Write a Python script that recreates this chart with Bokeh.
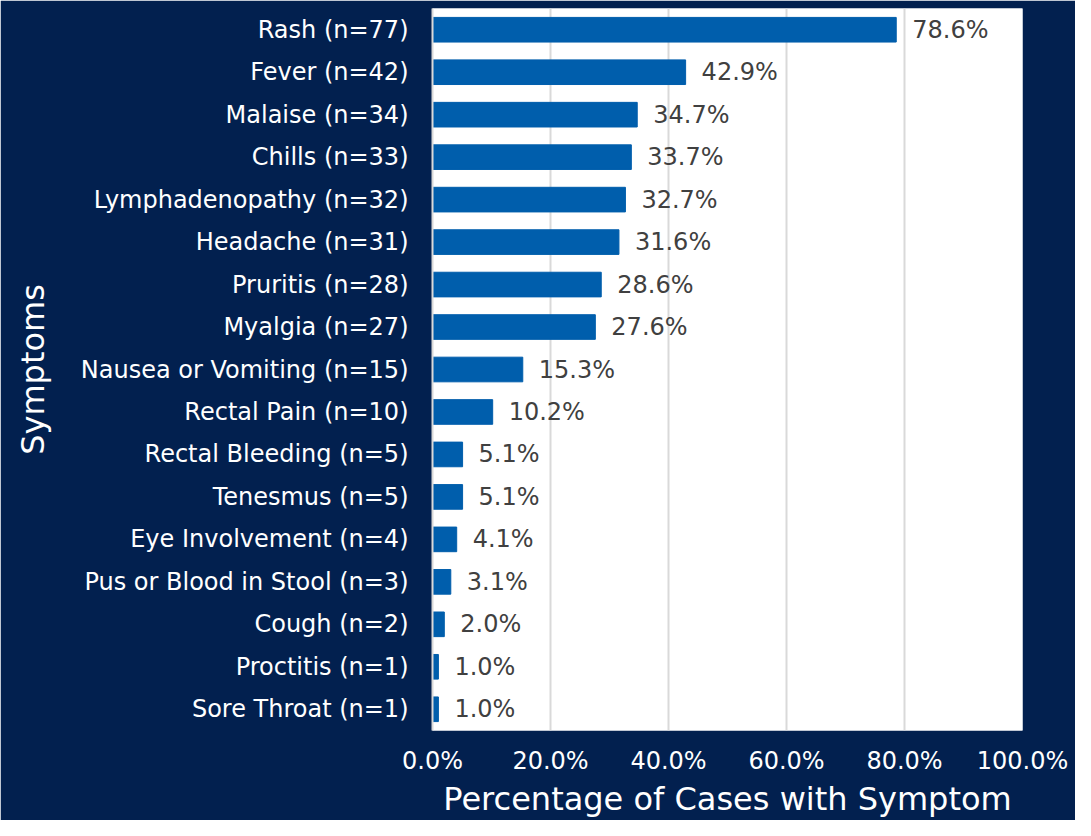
from bokeh.plotting import figure
from bokeh.models import ColumnDataSource, PrintfTickFormatter, FixedTicker, Range1d, FactorRange
from bokeh.embed import file_html
from bokeh.resources import INLINE

symptoms = ["Rash (n=77)", "Fever (n=42)", "Malaise (n=34)", "Chills (n=33)",
            "Lymphadenopathy (n=32)", "Headache (n=31)", "Pruritis (n=28)",
            "Myalgia (n=27)", "Nausea or Vomiting (n=15)", "Rectal Pain (n=10)",
            "Rectal Bleeding (n=5)", "Tenesmus (n=5)", "Eye Involvement (n=4)",
            "Pus or Blood in Stool (n=3)", "Cough (n=2)", "Proctitis (n=1)",
            "Sore Throat (n=1)"]
percent = [78.6, 42.9, 34.7, 33.7, 32.7, 31.6, 28.6, 27.6, 15.3, 10.2,
           5.1, 5.1, 4.1, 3.1, 2.0, 1.0, 1.0]
labels = ["%.1f%%" % v for v in percent]
x_ticks = [0, 20, 40, 60, 80, 100]

NAVY = "#02204f"
BAR = "#005eac"
FONT = "DejaVu Sans"

src = ColumnDataSource(dict(sym=symptoms, pct=percent, lab=labels))

p = figure(width=1075, height=820, output_backend="svg", toolbar_location=None,
           y_range=FactorRange(factors=symptoms[::-1], range_padding=0),
           x_range=Range1d(0, 100))
p.min_border_left = 432
p.min_border_right = 53
p.min_border_top = 8
p.min_border_bottom = 0
p.border_fill_color = NAVY
p.background_fill_color = "white"
p.outline_line_color = None

p.hbar(y="sym", right="pct", left=0, height=0.58, source=src,
       fill_color=BAR, line_color=BAR)
p.text(x="pct", y="sym", text="lab", source=src, x_offset=16,
       text_baseline="middle", text_align="left", text_color="#404040",
       text_font_size="24px", text_font={"value": FONT})

xa = p.xaxis[0]
xa.ticker = FixedTicker(ticks=x_ticks)
xa.formatter = PrintfTickFormatter(format="%.1f%%")
xa.axis_line_color = None
xa.major_tick_line_color = None
xa.minor_tick_line_color = None
xa.major_label_text_color = "white"
xa.major_label_text_font = FONT
xa.major_label_text_font_size = "24px"
xa.major_label_standoff = 10
xa.axis_label = "Percentage of Cases with Symptom"
xa.axis_label_text_color = "white"
xa.axis_label_text_font = FONT
xa.axis_label_text_font_size = "32px"
xa.axis_label_text_font_style = "normal"
xa.axis_label_standoff = 2

ya = p.yaxis[0]
ya.axis_line_color = "#d9d9d9"
ya.axis_line_width = 2
ya.major_tick_line_color = None
ya.minor_tick_line_color = None
ya.major_label_text_color = "white"
ya.major_label_text_font = FONT
ya.major_label_text_font_size = "24px"
ya.major_label_standoff = 18
ya.axis_label = "Symptoms"
ya.axis_label_text_color = "white"
ya.axis_label_text_font = FONT
ya.axis_label_text_font_size = "32px"
ya.axis_label_text_font_style = "normal"
ya.axis_label_standoff = 26

p.xgrid.grid_line_color = "#d9d9d9"
p.xgrid.grid_line_width = 2
p.ygrid.grid_line_color = None

open("out.html", "w").write(file_html(p, INLINE))
